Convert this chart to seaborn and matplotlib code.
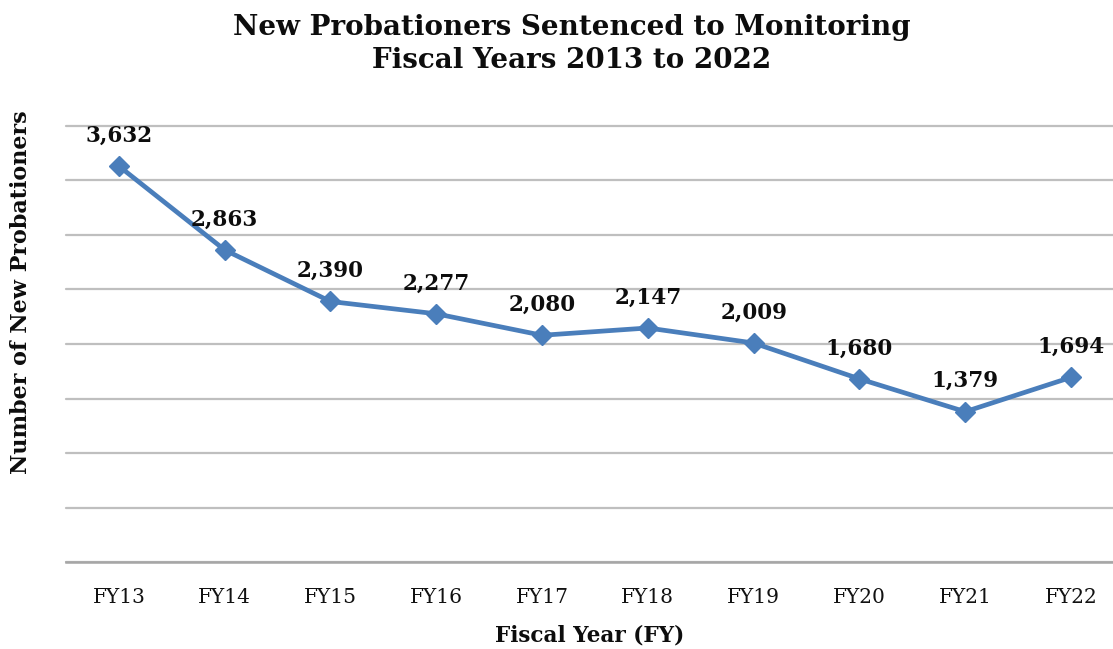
import matplotlib
matplotlib.use("Agg")
import matplotlib.pyplot as plt
import seaborn as sns
import pandas as pd

fiscal_years = ["FY13", "FY14", "FY15", "FY16", "FY17", "FY18", "FY19", "FY20", "FY21", "FY22"]
new_probationers = [3632, 2863, 2390, 2277, 2080, 2147, 2009, 1680, 1379, 1694]

df = pd.DataFrame({"year": fiscal_years, "count": new_probationers})
df["pos"] = range(len(df))

sns.set_theme(style="white")
plt.rcParams["font.family"] = ["DejaVu Serif"]

fig = plt.figure(figsize=(11.13, 6.49), dpi=100)
ax = fig.add_axes([66 / 1113, 1 - 562 / 649, 1 - 66 / 1113, (562 - 126) / 649])

line_color = "#4a7ebb"
sns.lineplot(data=df, x="pos", y="count", ax=ax, color=line_color, linewidth=3.4,
             marker="D", markersize=10, markeredgecolor=line_color, markeredgewidth=1)

ax.set_xlim(-0.50, 9.397)
ax.set_ylim(0, 4000)
ax.set_yticks(range(0, 4001, 500))
ax.set_yticklabels([])
ax.yaxis.grid(True, color="#bfbfbf", linewidth=1.6)
for gl in ax.get_ygridlines():
    gl.set_clip_on(False)
ax.xaxis.grid(False)
ax.set_axisbelow(True)
for side in ["left", "right", "top"]:
    ax.spines[side].set_visible(False)
ax.spines["bottom"].set_color("#a6a6a6")
ax.spines["bottom"].set_linewidth(1.8)

ax.set_xticks(df["pos"])
ax.set_xticklabels(fiscal_years, fontsize=14.5, color="#111111")
ax.tick_params(axis="x", length=0, pad=19)
ax.tick_params(axis="y", length=0)

for p, v in zip(df["pos"], df["count"]):
    ax.annotate(f"{v:,}", (p, v), xytext=(0, 14), textcoords="offset points",
                ha="center", va="bottom", fontsize=15.5, fontweight="heavy", color="#0d0d0d")

ax.set_xlabel("Fiscal Year (FY)", fontsize=15.5, fontweight="heavy", labelpad=12, color="#0d0d0d")
ax.set_ylabel("Number of New Probationers", fontsize=16, fontweight="heavy", color="#0d0d0d")
ax.yaxis.set_label_coords(-(66 - 32) / 1047, (562 - 292) / (562 - 126))

fig.text(572 / 1113, 1 - 44 / 649, "New Probationers Sentenced to Monitoring\nFiscal Years 2013 to 2022",
         ha="center", va="center", fontsize=20, fontweight="heavy", linespacing=1.3, color="#0d0d0d")

fig.savefig("out.png", dpi=100)
